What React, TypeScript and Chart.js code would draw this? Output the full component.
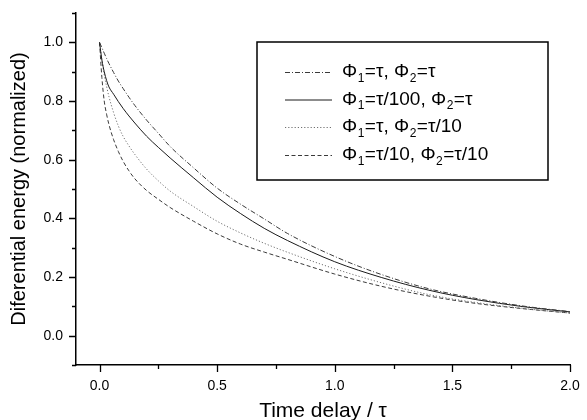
import { useEffect, useRef } from "react";
import { Chart, registerables } from "chart.js";

Chart.register(...registerables);

const FONT = "'Liberation Sans', Arial, sans-serif";

// Time delay (in units of tau)
const timeDelay = [0, 0.01, 0.02, 0.03, 0.04, 0.06, 0.08, 0.1, 0.125, 0.15, 0.2, 0.25, 0.3, 0.4, 0.5, 0.6, 0.7, 0.8, 1.0, 1.2, 1.4, 1.6, 1.8, 2.0];

// Normalized differential energy for each pulse-width combination
const energyTauTau = [1.0, 0.982, 0.963, 0.945, 0.928, 0.897, 0.868, 0.843, 0.813, 0.785, 0.735, 0.69, 0.645, 0.572, 0.503, 0.448, 0.398, 0.348, 0.27, 0.208, 0.16, 0.127, 0.101, 0.082];
const energyTau100Tau = [1.0, 0.94, 0.9, 0.87, 0.848, 0.823, 0.798, 0.775, 0.749, 0.725, 0.68, 0.642, 0.606, 0.538, 0.472, 0.416, 0.366, 0.324, 0.252, 0.198, 0.155, 0.123, 0.099, 0.081];
const energyTauTau10 = [1.0, 0.94, 0.89, 0.85, 0.815, 0.76, 0.715, 0.68, 0.647, 0.618, 0.568, 0.528, 0.493, 0.44, 0.39, 0.35, 0.315, 0.284, 0.228, 0.18, 0.14, 0.113, 0.093, 0.077];
const energyTau10Tau10 = [1.0, 0.88, 0.8, 0.755, 0.72, 0.668, 0.628, 0.595, 0.562, 0.535, 0.495, 0.465, 0.437, 0.39, 0.347, 0.312, 0.285, 0.26, 0.21, 0.168, 0.135, 0.11, 0.092, 0.077];

// Legend labels ("_x" marks a subscript character)
const seriesLabels = ["Φ_1=τ, Φ_2=τ", "Φ_1=τ/100, Φ_2=τ", "Φ_1=τ, Φ_2=τ/10", "Φ_1=τ/10, Φ_2=τ/10"];

// Axis ticks
const xMajorTicks = [0, 0.5, 1.0, 1.5, 2.0];
const xMinorTicks = [0.25, 0.75, 1.25, 1.75];
const yMajorTicks = [0, 0.2, 0.4, 0.6, 0.8, 1.0];
const yMinorTicks = [-0.1, 0.1, 0.3, 0.5, 0.7, 0.9, 1.1];

const seriesStyles = [
  { color: "#3a3a3a", dash: [5, 2, 1, 2] },
  { color: "#1a1a1a", dash: [] as number[] },
  { color: "#707070", dash: [1.2, 2] },
  { color: "#3a3a3a", dash: [4, 2.5] },
];

const seriesValues = [energyTauTau, energyTau100Tau, energyTauTau10, energyTau10Tau10];

function drawRichText(ctx: CanvasRenderingContext2D, text: string, x: number, y: number, size: number) {
  const subSize = Math.round(size * 0.62);
  let cx = x;
  let run = "";
  const flush = () => {
    if (!run) return;
    ctx.font = `${size}px ${FONT}`;
    ctx.fillText(run, cx, y);
    cx += ctx.measureText(run).width;
    run = "";
  };
  for (let i = 0; i < text.length; i++) {
    const ch = text[i];
    if (ch === "_" && i + 1 < text.length) {
      flush();
      ctx.font = `${subSize}px ${FONT}`;
      ctx.fillText(text[i + 1], cx + 0.5, y + size * 0.33);
      cx += ctx.measureText(text[i + 1]).width + 1;
      i++;
    } else {
      run += ch;
    }
  }
  flush();
}

const axisTicksPlugin = {
  id: "axisTicks",
  afterDraw(chart: any) {
    const { ctx, chartArea, scales } = chart;
    const x = scales.x;
    const y = scales.y;
    ctx.save();
    ctx.strokeStyle = "#000";
    ctx.lineWidth = 1.3;
    ctx.beginPath();
    const drawX = (v: number, len: number) => {
      const px = Math.round(x.getPixelForValue(v)) + 0.5;
      ctx.moveTo(px, chartArea.bottom);
      ctx.lineTo(px, chartArea.bottom + len);
    };
    const drawY = (v: number, len: number) => {
      const py = Math.round(y.getPixelForValue(v)) + 0.5;
      ctx.moveTo(chartArea.left, py);
      ctx.lineTo(chartArea.left - len, py);
    };
    xMajorTicks.forEach((v) => drawX(v, 7));
    xMinorTicks.forEach((v) => drawX(v, 4));
    yMajorTicks.forEach((v) => drawY(v, 7));
    yMinorTicks.forEach((v) => drawY(v, 4));
    ctx.stroke();
    ctx.restore();
  },
};

const boxLegendPlugin = {
  id: "boxLegend",
  afterDraw(chart: any) {
    const { ctx } = chart;
    const left = 257;
    const top = 42;
    const right = 548;
    const bottom = 180;
    ctx.save();
    ctx.fillStyle = "#fff";
    ctx.fillRect(left, top, right - left, bottom - top);
    ctx.strokeStyle = "#000";
    ctx.lineWidth = 1.5;
    ctx.strokeRect(left, top, right - left, bottom - top);
    const rowY = [72, 99.5, 127, 155];
    seriesLabels.forEach((label, i) => {
      const st = seriesStyles[i];
      ctx.strokeStyle = st.color;
      ctx.lineWidth = 1;
      ctx.setLineDash(st.dash);
      ctx.beginPath();
      ctx.moveTo(285, rowY[i] + 0.5);
      ctx.lineTo(332, rowY[i] + 0.5);
      ctx.stroke();
      ctx.setLineDash([]);
      ctx.fillStyle = "#000";
      ctx.textBaseline = "middle";
      ctx.textAlign = "left";
      drawRichText(ctx, label, 342, rowY[i], 19);
    });
    ctx.restore();
  },
};

export default function App() {
  const canvasRef = useRef<HTMLCanvasElement | null>(null);

  useEffect(() => {
    if (!canvasRef.current) return;
    const datasets = seriesValues.map((vals, i) => ({
      label: seriesLabels[i].replace(/_/g, ""),
      data: timeDelay.map((t, k) => ({ x: t, y: vals[k] })),
      borderColor: seriesStyles[i].color,
      borderDash: seriesStyles[i].dash,
      borderWidth: 1,
      pointRadius: 0,
      fill: false,
      cubicInterpolationMode: "monotone" as const,
    }));

    const chart = new Chart(canvasRef.current, {
      type: "line",
      data: { datasets },
      plugins: [axisTicksPlugin, boxLegendPlugin],
      options: {
        animation: false,
        responsive: false,
        devicePixelRatio: 1,
        layout: { padding: { top: 13, right: 17, left: 0, bottom: 0 } },
        plugins: { legend: { display: false }, tooltip: { enabled: false } },
        scales: {
          x: {
            type: "linear",
            min: -0.1,
            max: 2.0,
            afterFit: (s: any) => {
              s.height = 55;
              s.paddingLeft = 0;
              s.paddingRight = 0;
            },
            afterBuildTicks: (s: any) => {
              s.ticks = xMajorTicks.map((v) => ({ value: v }));
            },
            ticks: {
              color: "#000",
              font: { family: FONT, size: 14 },
              padding: 13,
              maxRotation: 0,
              autoSkip: false,
              callback: (v: any) => Number(v).toFixed(1),
            },
            grid: { display: false, drawTicks: false },
            border: { display: true, color: "#000", width: 1.5 },
            title: {
              display: true,
              text: "Time delay / τ",
              color: "#000",
              font: { family: FONT, size: 21, lineHeight: 0.8 },
              padding: { top: 0, bottom: 0 },
            },
          },
          y: {
            type: "linear",
            min: -0.1,
            max: 1.1,
            afterFit: (s: any) => {
              s.width = 76;
              s.paddingTop = 0;
              s.paddingBottom = 0;
            },
            afterBuildTicks: (s: any) => {
              s.ticks = yMajorTicks.map((v) => ({ value: v }));
            },
            ticks: {
              color: "#000",
              font: { family: FONT, size: 14 },
              padding: 13,
              autoSkip: false,
              callback: (v: any) => Number(v).toFixed(1),
            },
            grid: { display: false, drawTicks: false },
            border: { display: true, color: "#000", width: 1.5 },
            title: {
              display: true,
              text: "Diferential energy (normalized)",
              color: "#000",
              font: { family: FONT, size: 20, lineHeight: 1 },
              padding: { top: 9.5, bottom: 0 },
            },
          },
        },
      },
    });
    return () => chart.destroy();
  }, []);

  return (
    <div style={{ position: "fixed", left: 0, top: 0, width: 587, height: 420, background: "#fff" }}>
      <canvas ref={canvasRef} width={587} height={420} style={{ display: "block" }} />
    </div>
  );
}
